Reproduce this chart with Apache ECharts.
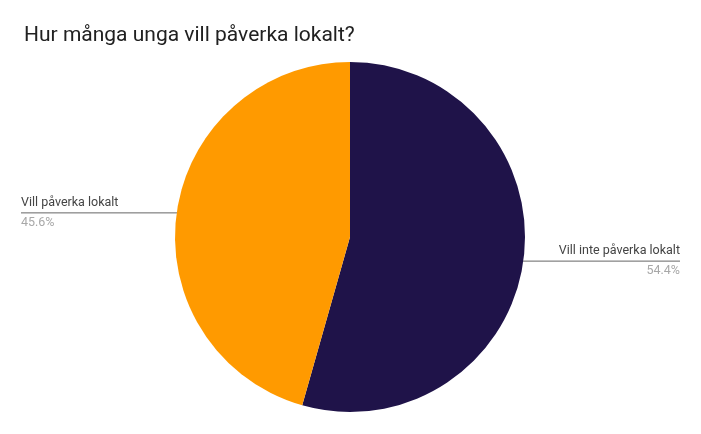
<!DOCTYPE html>
<html>
<head>
<meta charset="utf-8">
<script src="https://cdn.jsdelivr.net/npm/echarts@6/dist/echarts.min.js"></script>
<style>
html,body{margin:0;padding:0;background:#fff;}
#c{width:701px;height:434px;}
</style>
</head>
<body>
<div id="c"></div>
<script>
const titleText = 'Hur många unga vill påverka lokalt?';
const categories = ['Vill inte påverka lokalt', 'Vill påverka lokalt'];
const values = [54.4, 45.6];
const colors = ['#1f1349', '#ff9a00'];

const chart = echarts.init(document.getElementById('c'), null, {renderer: 'canvas'});
chart.setOption({
  backgroundColor: '#ffffff',
  animation: false,
  title: {
    text: titleText,
    left: 19,
    top: 20,
    textStyle: {fontFamily: 'Roboto', fontSize: 21, fontWeight: 'normal', color: '#212121'}
  },
  series: [{
    type: 'pie',
    center: [350, 237],
    radius: 175,
    startAngle: 90,
    clockwise: true,
    color: colors,
    data: categories.map((n, i) => ({name: n, value: values[i]})),
    label: {
      alignTo: 'edge',
      edgeDistance: 21,
      formatter: p => '{name|' + p.name + '}\n{pct|' + p.value + '%}',
      fontFamily: 'Roboto',
      rich: {
        name: {fontFamily: 'Roboto', fontSize: 12.5, color: '#444444', lineHeight: 20},
        pct: {fontFamily: 'Roboto', fontSize: 12.5, color: '#a8a8a8', lineHeight: 20}
      }
    },
    labelLine: {length: 1, length2: 0, lineStyle: {color: '#666666', width: 1}},
    labelLayout: function (params) {
      const isLeft = params.labelRect.x < chart.getWidth() / 2;
      const pts = params.labelLinePoints;
      const y0 = pts[0][1];
      const xs = pts[0][0] + (isLeft ? 7 : -7);
      const xe = isLeft ? params.labelRect.x : params.labelRect.x + params.labelRect.width;
      return {
        y: y0,
        verticalAlign: 'middle',
        labelLinePoints: [[xs, y0], [xs, y0], [xe, y0]]
      };
    }
  }]
});
</script>
</body>
</html>
